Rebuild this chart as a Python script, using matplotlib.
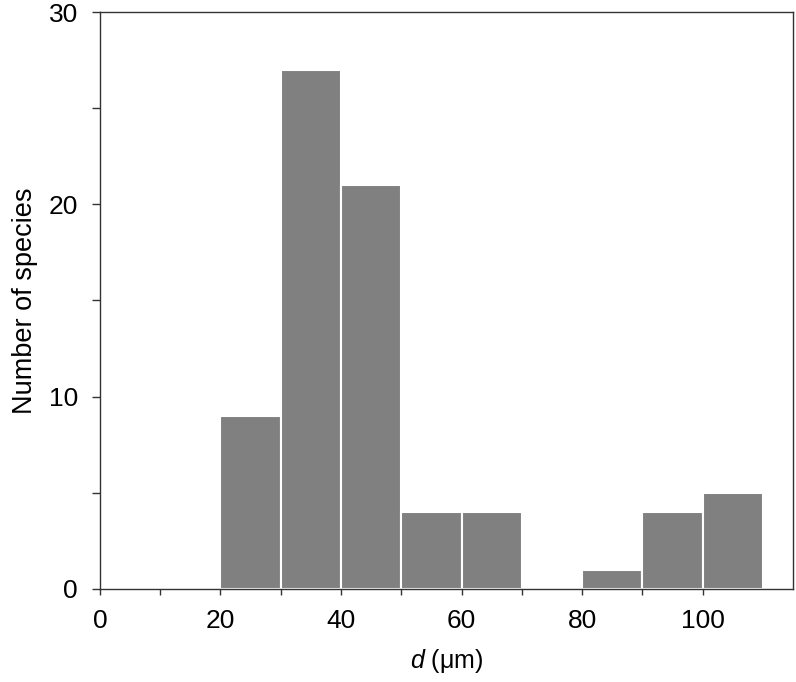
import matplotlib
matplotlib.use('Agg')
import matplotlib.pyplot as plt
import numpy as np

# histogram of cell size d (um), 10 um bins
bin_edges = [20, 30, 40, 50, 60, 70, 80, 90, 100, 110]
counts = [9, 27, 21, 4, 4, 0, 1, 4, 5]

plt.rcParams['font.family'] = ['Liberation Sans', 'DejaVu Sans']
plt.rcParams['mathtext.fontset'] = 'custom'
plt.rcParams['mathtext.it'] = 'Liberation Sans:italic'

fig = plt.figure(figsize=(7.96, 6.82), dpi=100)
ax = fig.add_axes([0.1256, 0.1364, 0.8706, 0.846])

left = np.array(bin_edges[:-1])
widths = np.diff(bin_edges)
ax.bar(left, counts, widths, align='edge', color='#808080',
       edgecolor='white', linewidth=1.5)

ax.set_xlim(0, 115)
ax.set_ylim(0, 30)
ax.set_xticks(np.arange(0, 101, 20))
ax.set_xticks(np.arange(10, 100, 20), minor=True)
ax.set_yticks([0, 10, 20, 30])
ax.set_yticks([5, 15, 25], minor=True)

for s in ax.spines.values():
    s.set_color('#333333')
    s.set_linewidth(1.0)

ax.tick_params(axis='both', which='both', direction='out', color='#333333',
               labelsize=19, width=1.0)
ax.tick_params(axis='x', which='both', length=4.3, pad=10)
ax.tick_params(axis='y', which='both', length=5.8, pad=10)

ax.set_ylabel('Number of species', fontsize=19.5, labelpad=8)
ax.set_xlabel(r'$d$ (μm)', fontsize=18, labelpad=10)

plt.savefig('out.png', dpi=100)
